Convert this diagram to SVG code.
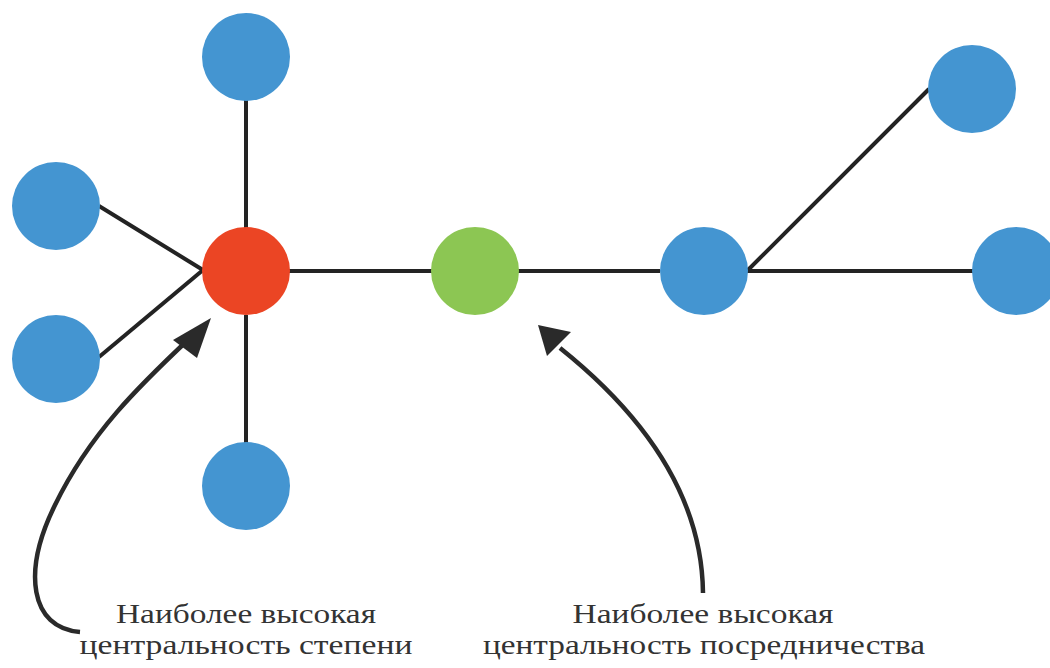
<svg xmlns="http://www.w3.org/2000/svg" width="1050" height="668" viewBox="0 0 1050 668">
<defs>
<style>
.edge{stroke:#232323;stroke-width:4;fill:none}
.arrow{stroke:#2a2a2a;stroke-width:4.5;fill:none}
.head{fill:#2a2a2a}
.blue{fill:#4495d1}
.red{fill:#eb4524}
.green{fill:#8cc653}
.lbl{font-family:"Liberation Serif","DejaVu Serif",serif;font-size:28px;fill:#333;text-anchor:middle}
</style>
</defs>
<rect width="1050" height="668" fill="#fff"/>
<g id="connectors">
<line class="edge" x1="99" y1="206" x2="203" y2="270"/>
<line class="edge" x1="99" y1="357" x2="203" y2="270"/>
<line class="edge" x1="246" y1="100" x2="246" y2="228"/>
<line class="edge" x1="246" y1="315" x2="246" y2="443"/>
<line class="edge" x1="289" y1="271" x2="432" y2="271"/>
<line class="edge" x1="518" y1="271" x2="660" y2="271"/>
<line class="edge" x1="747" y1="271" x2="929" y2="89"/>
<line class="edge" x1="747" y1="271" x2="973" y2="271"/>
<path class="arrow" d="M80,632 C30,628 22,572 55,505 C90,433 140,385 190,338"/>
<polygon class="head" points="211,318 173,340 197,358"/>
<path class="arrow" d="M703,593 C702,500 650,420 560,348"/>
<polygon class="head" points="538,325 547,356 571,332"/>
</g>
<g id="n-top"><circle class="blue" cx="246" cy="57" r="44"/></g>
<g id="n-left1"><circle class="blue" cx="56" cy="206" r="44"/></g>
<g id="n-left2"><circle class="blue" cx="56" cy="359" r="44"/></g>
<g id="n-bottom"><circle class="blue" cx="246" cy="486" r="44"/></g>
<g id="n-red"><circle class="red" cx="246" cy="271" r="44"/></g>
<g id="n-green"><circle class="green" cx="475" cy="271" r="44"/></g>
<g id="n-mid"><circle class="blue" cx="704" cy="271" r="44"/></g>
<g id="n-topright"><circle class="blue" cx="972" cy="89" r="44"/></g>
<g id="n-right"><circle class="blue" cx="1016" cy="271" r="44"/></g>
<g id="label-degree">
<text class="lbl" x="246" y="623" textLength="260" lengthAdjust="spacingAndGlyphs">Наиболее высокая</text>
<text class="lbl" x="246" y="654" textLength="333" lengthAdjust="spacingAndGlyphs">центральность степени</text>
</g>
<g id="label-between">
<text class="lbl" x="703" y="623" textLength="261" lengthAdjust="spacingAndGlyphs">Наиболее высокая</text>
<text class="lbl" x="704" y="654" textLength="442" lengthAdjust="spacingAndGlyphs">центральность посредничества</text>
</g>
</svg>
